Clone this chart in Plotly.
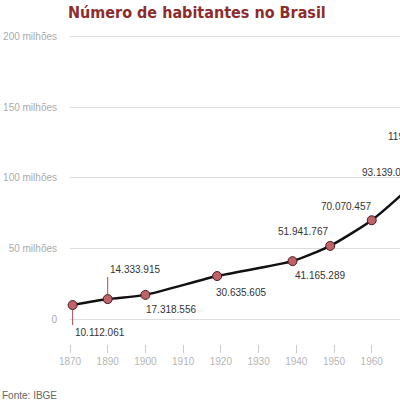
import plotly.graph_objects as go

# Dados do censo (IBGE)
anos_censo = [1872, 1890, 1900, 1920, 1940, 1950, 1960, 1970, 1980, 1991, 2000, 2010]
habitantes = [10112061, 14333915, 17318556, 30635605, 41165289, 51941767,
              70070457, 93139037, 119002706, 146825475, 169799170, 190755799]
# posicao de cada censo no eixo (eixo em passos de rotulo)
posicao = [0.07, 1.0, 2.0, 3.9, 5.9, 6.9, 8.0, 9.0, 10.0, 11.1, 12.0, 13.0]
rotulos_x = ["1870", "1890", "1900", "1910", "1920", "1930", "1940",
             "1950", "1960", "1970", "1980", "1990", "2000", "2010"]
valores_y = [0, 50, 100, 150, 200]
rotulos_y = ["0", "50 milhões", "100 milhões", "150 milhões", "200 milhões"]

milhoes = [h / 1e6 for h in habitantes]
faixa_x = [0, 8.75]

fig = go.Figure()
fig.add_trace(go.Scatter(
    x=posicao, y=milhoes, mode="lines+markers",
    line=dict(color="#111111", width=2.5, shape="spline", smoothing=0.6),
    marker=dict(size=9, color="#c0626a", line=dict(color="#4a1a1a", width=1)),
    cliponaxis=False, hoverinfo="skip", showlegend=False,
))

# como cada rotulo fica em relacao ao ponto
estilo = [
    dict(showarrow=True, ax=0, ay=20, xanchor="left", yanchor="top"),
    dict(showarrow=True, ax=0, ay=-22, xanchor="left", yanchor="bottom"),
    dict(xanchor="left", xshift=-1, yshift=-15),
    dict(xanchor="left", xshift=-3, yshift=-16),
    dict(xanchor="left", xshift=0, yshift=-14),
    dict(xanchor="right", xshift=0, yshift=14),
    dict(xanchor="right", xshift=1, yshift=14),
    dict(xanchor="right", xshift=5, yshift=15),
    dict(xanchor="right", xshift=-2, yshift=15),
]
for i, st in enumerate(estilo):
    texto = f"{habitantes[i]:,}".replace(",", ".")
    base = dict(x=posicao[i], y=milhoes[i], text=texto, showarrow=False,
                yanchor="middle", font=dict(size=10, color="#333333"))
    if posicao[i] > faixa_x[1]:
        # fora da faixa visivel: plotly esconderia o rotulo, entao usa fracao do eixo
        base.update(xref="paper", x=(posicao[i] - faixa_x[0]) / (faixa_x[1] - faixa_x[0]))
    base.update(st)
    if base["showarrow"]:
        base.update(arrowhead=0, arrowwidth=1, arrowcolor="#b04a50", standoff=5)
    fig.add_annotation(**base)

fig.add_annotation(text="Fonte: IBGE", xref="paper", yref="paper",
                   x=-70 / 330, y=-51 / 309, xanchor="left", yanchor="middle",
                   showarrow=False, font=dict(size=10, color="#666666"))

fig.add_annotation(text="<b>Número de habitantes no Brasil</b>", xref="paper", yref="paper",
                   x=-4 / 330, y=1 + 22 / 309, xanchor="left", yanchor="middle",
                   showarrow=False,
                   font=dict(family="Liberation Sans Narrow, DejaVu Sans Condensed, sans-serif",
                             size=16, color="#8e2c2c"))

fig.update_layout(
    width=400, height=400,
    margin=dict(l=70, r=0, t=35, b=56, autoexpand=False),
    paper_bgcolor="white", plot_bgcolor="white",
    font=dict(family="Arial, Liberation Sans, sans-serif"),
    xaxis=dict(range=faixa_x, tickvals=list(range(len(rotulos_x))), ticktext=rotulos_x,
               showgrid=False, zeroline=False, showline=False, automargin=False,
               ticks="outside", ticklen=8, tickcolor="#cccccc", tickwidth=1,
               tickfont=dict(size=10, color="#b5b5b5")),
    yaxis=dict(range=[-17.4, 201], tickvals=valores_y, ticktext=rotulos_y,
               showgrid=True, gridcolor="#dddddd", gridwidth=1, zeroline=False,
               showline=False, ticklabelstandoff=12, automargin=False,
               tickfont=dict(size=10, color="#aaaaaa")),
)

# sem a margem padrao do body, para a figura ocupar a janela exata
fig.write_html("out.html", config={"displayModeBar": False},
               post_script="document.body.style.margin='0';")
